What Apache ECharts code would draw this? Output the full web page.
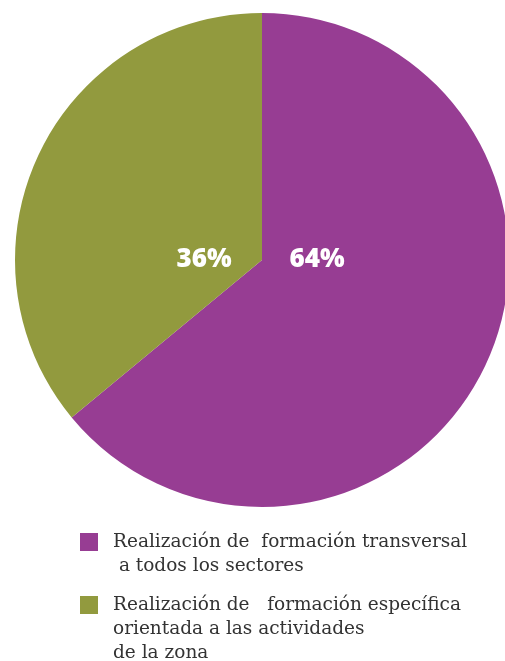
<!DOCTYPE html>
<html>
<head>
<meta charset="utf-8">
<script src="https://cdn.jsdelivr.net/npm/echarts@6/dist/echarts.min.js"></script>
<style>
  html, body { margin: 0; padding: 0; background: #fff; }
  #main { width: 505px; height: 661px; }
</style>
</head>
<body>
<div id="main"></div>
<script>
// data
var categories = [
  'Realización de  formación transversal\n a todos los sectores',
  'Realización de   formación específica\norientada a las actividades\nde la zona'
];
var shares = [64, 36];
var colors = ['#973d93', '#929a3e'];
var labelShift = [55, -58];
var legendTops = [532, 595];

var chart = echarts.init(document.getElementById('main'));

var pieData = categories.map(function (name, i) {
  return { name: name, value: shares[i], itemStyle: { color: colors[i] } };
});

// One legend per item. The icon box is as tall as the text block and a bit
// wider than the square, so the square sits beside the first line with a gap.
var LINE_H = 24, SQ = 18, ICON_W = 28, SQ_Y = 3;
function iconFor(h) {
  return 'path://M0,' + SQ_Y + 'h' + SQ + 'v' + SQ + 'h-' + SQ + 'z' +
    'M0,0h0.01v0.01h-0.01z' +
    'M' + (ICON_W - 0.01) + ',' + (h - 0.01) + 'h0.01v0.01h-0.01z';
}
var legends = categories.map(function (name, i) {
  var h = LINE_H * name.split('\n').length;
  return {
    orient: 'vertical',
    left: 80,
    top: legendTops[i] - SQ_Y + 1,
    padding: 0,
    itemWidth: ICON_W,
    itemHeight: h,
    icon: iconFor(h),
    data: [name],
    textStyle: {
      fontFamily: 'DejaVu Serif',
      fontSize: 18.5,
      lineHeight: LINE_H,
      color: '#333333'
    }
  };
});

chart.setOption({
  animation: false,
  legend: legends,
  series: [{
    type: 'pie',
    center: [262, 260],
    radius: 247,
    startAngle: 90,
    clockwise: true,
    data: pieData,
    label: {
      show: true,
      position: 'center',
      formatter: '{d}%',
      color: '#ffffff',
      fontFamily: 'Open Sans',
      fontWeight: 800,
      fontSize: 26
    },
    labelLine: { show: false },
    labelLayout: function (params) {
      return { dx: labelShift[params.dataIndex], dy: 0 };
    },
    emphasis: { disabled: true }
  }]
});
</script>
</body>
</html>
